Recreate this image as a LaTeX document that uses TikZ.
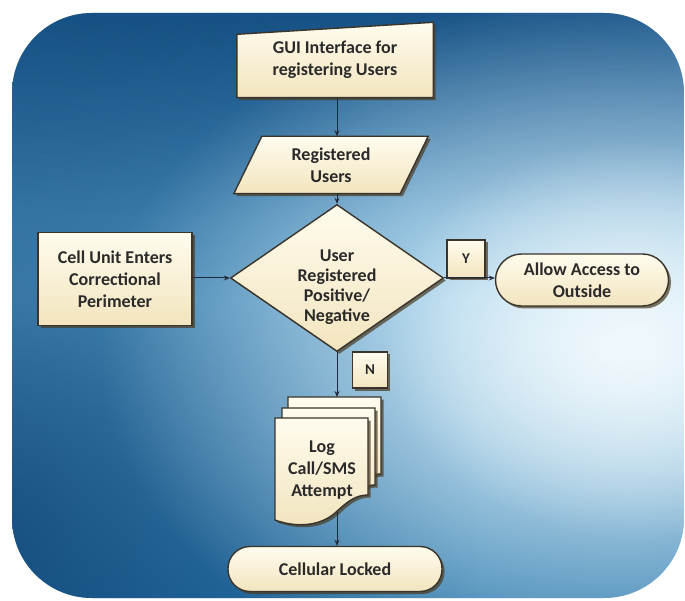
\documentclass[tikz,border=0pt]{standalone}
\usepackage{fontspec}
\setmainfont{Carlito}
\usetikzlibrary{shapes.geometric,shadows,arrows.meta,backgrounds,fadings}

\definecolor{creamT}{HTML}{FFFCEE}
\definecolor{creamB}{HTML}{F2E4BE}
\definecolor{edgec}{HTML}{3A342A}
\definecolor{shadc}{HTML}{4A3B22}
\definecolor{linec}{HTML}{1E2B3A}
\definecolor{textc}{HTML}{2A2A2A}
\definecolor{skyTop}{HTML}{1B5C92}
\definecolor{skyMid}{HTML}{62AEDA}
\definecolor{skyBot}{HTML}{2A78AC}
\definecolor{deepBlue}{HTML}{0E3F70}
\definecolor{glowc}{HTML}{F4FBFE}

\tikzfading[name=softglow, inner color=transparent!0, outer color=transparent!100]

\begin{document}
\begin{tikzpicture}[x=1pt,y=-1pt,
  box/.style={draw=edgec, line width=1.4pt, top color=creamT, bottom color=creamB,
    drop shadow={shadow xshift=2.5pt, shadow yshift=-2.5pt, fill=shadc, opacity=.7}},
  txt/.style={font=\fontsize{18}{22}\selectfont\bfseries, text=textc, align=center},
  link/.style={draw=linec, line width=1pt, -{Stealth[length=6pt,width=5pt]}},
  sheet/.pic={
    \path[box] (0,0) -- (93,0) -- (93,77)
      .. controls (80,77) and (72,84) .. (60,95)
      .. controls (45,108) and (22,110) .. (0,102) -- cycle;
  }]
\useasboundingbox (0,0) rectangle (685,601);

% blue rounded panel
\begin{scope}[on background layer]
  \begin{scope}
    \clip[rounded corners=80pt] (12,13) rectangle (684,598);
    \shade[top color=skyTop, bottom color=skyBot, middle color=skyMid] (0,0) rectangle (685,601);
    \fill[deepBlue, path fading=softglow, fill opacity=.75] (0,540) ellipse [x radius=480, y radius=700];
    \fill[deepBlue, path fading=softglow, fill opacity=.45] (330,0) ellipse [x radius=900, y radius=220];
    \fill[glowc, path fading=softglow, fill opacity=.9] (620,350) ellipse [x radius=520, y radius=360];
    \fill[glowc, path fading=softglow, fill opacity=.8] (640,340) ellipse [x radius=260, y radius=200];
  \end{scope}
\end{scope}

% text anchors for the hand-drawn shapes
\node[txt, minimum width=196pt, minimum height=75pt, inner sep=0] (gui) at (335,60)
  {GUI Interface for\\registering Users};
\node[txt, minimum width=194pt, minimum height=57pt, inner sep=0] (reg) at (331,165)
  {Registered\\Users};

\begin{scope}[on background layer]
  % manual input
  \path[box] ([yshift=-12pt]gui.north west) -- (gui.north east)
    -- (gui.south east) -- (gui.south west) -- cycle;
  % data (parallelogram)
  \path[box] ([xshift=28pt]reg.north west) -- (reg.north east)
    -- ([xshift=-28pt]reg.south east) -- (reg.south west) -- cycle;
  % multi-document stack
  \pic at (288,397) {sheet};
  \pic at (282,408) {sheet};
  \pic at (275,418) {sheet};
\end{scope}

% decision
\node[box, diamond, minimum width=213pt, minimum height=147pt, inner sep=0] (dia) at (337,278) {};
\node[txt, font=\fontsize{18}{20}\selectfont\bfseries] (dialbl) at (337,287)
  {User\\Registered\\Positive/\\Negative};

% process and terminals
\node[box, txt, rectangle, minimum width=154pt, minimum height=93pt, inner sep=2pt] (cell) at (115,279)
  {Cell Unit Enters\\Correctional\\Perimeter};
\node[box, txt, rounded corners=26pt, minimum width=173pt, minimum height=52pt, inner sep=2pt] (allow) at (582,280)
  {Allow Access to\\Outside};
\node[box, txt, rounded corners=22pt, minimum width=214pt, minimum height=45pt, inner sep=2pt] (lock) at (335,569)
  {Cellular Locked};

% branch labels
\node[box, txt, font=\fontsize{15}{18}\selectfont\bfseries, minimum size=38pt, inner sep=0] (ylbl) at (466,259) {Y};
\node[box, txt, font=\fontsize{15}{18}\selectfont\bfseries, minimum width=35pt, minimum height=36pt, inner sep=0] (nlbl) at (370,370) {N};

% document text
\node[txt] (log) at (322,470) {Log\\Call/SMS\\Attempt};
\coordinate (stacktop) at (337,397);
\coordinate (stackbot) at (337,512);

% connectors
\draw[link] (gui.south -| dia.north) -- (reg.north -| dia.north);
\draw[link] (reg.south -| dia.north) -- (dia.north);
\draw[link] (cell.east |- dia.west) -- (dia.west);
\draw[link] (dia.east) -- (allow.west |- dia.east);
\draw[link] (dia.south) -- (stacktop);
\draw[link] (stackbot) -- (lock.north -| stackbot);
\end{tikzpicture}
\end{document}
